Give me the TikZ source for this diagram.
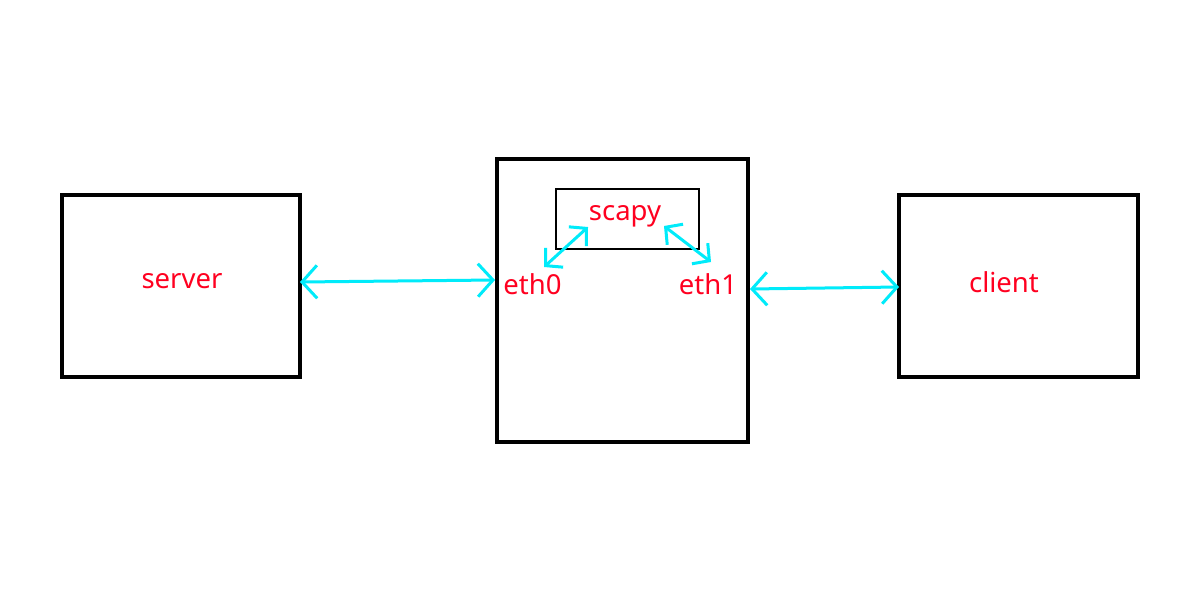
\documentclass[tikz,border=0pt]{standalone}
\usepackage{fontspec}
\setmainfont{Noto Sans}
\usetikzlibrary{arrows.meta}
\definecolor{lblred}{RGB}{255,0,32}
\definecolor{arrcyan}{RGB}{0,235,250}
\tikzset{
  box/.style={draw=black,line width=3.8pt,rectangle,inner sep=0pt},
  smallbox/.style={draw=black,line width=2pt,rectangle,inner sep=0pt},
  lbl/.style={text=lblred,font=\fontsize{27.5}{30}\selectfont,inner sep=0pt,anchor=base},
  link/.style={draw=arrcyan,line width=3pt,{Straight Barb[length=15pt,width=33pt,line width=3pt]}-{Straight Barb[length=15pt,width=33pt,line width=3pt]}},
  smalllink/.style={draw=arrcyan,line width=3pt,{Straight Barb[length=12pt,width=26pt,line width=3pt]}-{Straight Barb[length=12pt,width=26pt,line width=3pt]}}
}
\begin{document}
\begin{tikzpicture}[x=1pt,y=-1pt]
\useasboundingbox (0,0) rectangle (1200,600);
\fill[white] (0,0) rectangle (1200,600);
% boxes
\node[box,minimum width=238pt,minimum height=182pt] (server) at (181,286) {};
\node[box,minimum width=251pt,minimum height=283pt] (mid) at (622.5,300.5) {};
\node[box,minimum width=239pt,minimum height=182pt] (client) at (1018.5,286) {};
\node[smallbox,minimum width=143pt,minimum height=60pt] (scapybox) at (627.5,218.5) {};
% labels
\node[lbl] (tserver) at (182,288) {server};
\node[lbl] (tclient) at (1004,292) {client};
\node[lbl] (tscapy) at (625,220) {scapy};
\node[lbl] (teth0) at (532.5,294) {eth0};
\node[lbl] (teth1) at (708,294) {eth1};
% anchor coordinates
\coordinate (s1) at (300,282);
\coordinate (e0) at (495,280);
\coordinate (e1) at (750,289);
\coordinate (c1) at (899,287);
\coordinate (sc0) at (588,227);
\coordinate (e0b) at (544,267);
\coordinate (sc1) at (664,226);
\coordinate (e1b) at (711,262);
% connectors
\draw[link] (s1) -- (e0);
\draw[link] (e1) -- (c1);
\draw[smalllink] (sc0) -- (e0b);
\draw[smalllink] (sc1) -- (e1b);
\end{tikzpicture}
\end{document}
